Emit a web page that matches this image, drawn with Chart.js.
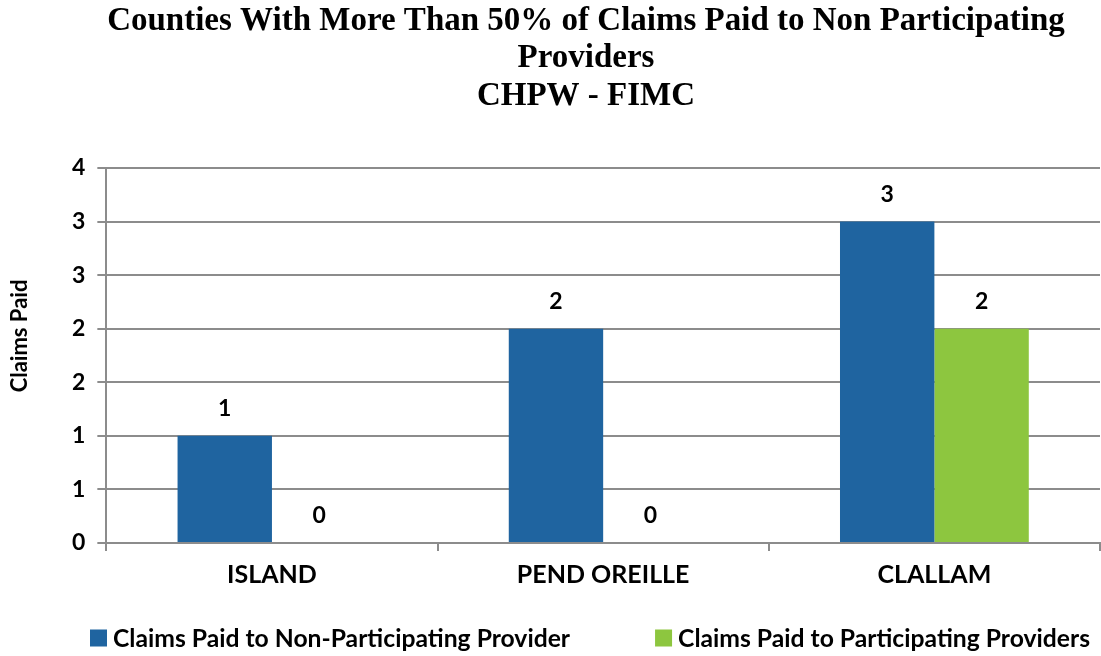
<!DOCTYPE html>
<html>
<head>
<meta charset="utf-8">
<script src="https://cdn.jsdelivr.net/npm/chart.js@4.4.0/dist/chart.umd.min.js"></script>
<style>
  html, body { margin: 0; padding: 0; background: #fff; }
  #wrap { width: 1101px; height: 656px; position: relative; }
</style>
</head>
<body>
<div id="wrap"><canvas id="claimsChart"></canvas></div>
<script>
const counties = ["ISLAND", "PEND OREILLE", "CLALLAM"];
const nonParticipating = [1, 2, 3];
const participating = [0, 0, 2];
const seriesNames = ["Claims Paid to Non-Participating Provider", "Claims Paid to Participating Providers"];
const titleLines = ["Counties With More Than 50% of Claims Paid to Non Participating", "Providers", "CHPW - FIMC"];
const yAxisTitle = "Claims Paid";

const blue = "#1f64a0";
const green = "#8dc63f";
const gridGray = "#8c8c8c";
const labelFont = "Lato, 'Open Sans', sans-serif";

// title block and y-axis title, placed like the original Excel chart
const titleBlock = {
  id: "titleBlock",
  afterDraw(chart) {
    const ctx = chart.ctx;
    ctx.save();
    ctx.font = "bold 33px 'Liberation Serif', 'DejaVu Serif', serif";
    ctx.fillStyle = "#000";
    ctx.textAlign = "center";
    ctx.textBaseline = "middle";
    titleLines.forEach((line, i) => ctx.fillText(line, 586, 21 + i * 37.5));

    ctx.font = "bold 22px " + labelFont;
    ctx.translate(20, 336);
    ctx.rotate(-Math.PI / 2);
    ctx.fillText(yAxisTitle, 0, 0);
    ctx.restore();
  },
};

// value labels above each bar
const barLabels = {
  id: "barLabels",
  afterDatasetsDraw(chart) {
    const ctx = chart.ctx;
    ctx.save();
    ctx.font = "bold 23px " + labelFont;
    ctx.fillStyle = "#000";
    ctx.textAlign = "center";
    ctx.textBaseline = "middle";
    chart.data.datasets.forEach((ds, i) => {
      chart.getDatasetMeta(i).data.forEach((bar, j) => {
        ctx.fillText(ds.data[j], bar.x, bar.y - 27);
      });
    });
    ctx.restore();
  },
};

// legend drawn along the bottom, Excel style
const bottomLegend = {
  id: "bottomLegend",
  afterDraw(chart) {
    const ctx = chart.ctx;
    ctx.save();
    ctx.font = "bold 24.7px " + labelFont;
    ctx.textBaseline = "middle";
    const box = 17, gap = 6, spacing = 85;
    const widths = seriesNames.map((n) => box + gap + ctx.measureText(n).width);
    let x = 90;
    const y = 638;
    chart.data.datasets.forEach((ds, i) => {
      ctx.fillStyle = ds.backgroundColor;
      ctx.fillRect(x, y - box / 2, box, box);
      ctx.fillStyle = "#000";
      ctx.fillText(seriesNames[i], x + box + gap, y + 1);
      x += widths[i] + spacing;
    });
    ctx.restore();
  },
};

new Chart(document.getElementById("claimsChart"), {
  type: "bar",
  data: {
    labels: counties,
    datasets: [
      { label: seriesNames[0], data: nonParticipating, backgroundColor: blue },
      { label: seriesNames[1], data: participating, backgroundColor: green },
    ],
  },
  options: {
    responsive: true,
    maintainAspectRatio: false,
    animation: false,
    layout: { padding: { left: 60, right: 1, top: 168, bottom: 57 } },
    datasets: { bar: { barPercentage: 1, categoryPercentage: 0.57 } },
    plugins: {
      legend: { display: false },
      tooltip: { enabled: false },
      title: { display: false },
    },
    scales: {
      x: {
        grid: { display: true, drawOnChartArea: false, drawTicks: true, tickLength: 8, offset: true, color: gridGray, lineWidth: 2 },
        border: { display: true, color: gridGray, width: 2 },
        ticks: { color: "#000", font: { family: labelFont, size: 25, weight: "bold" }, padding: 9 },
      },
      y: {
        min: 0,
        max: 3.5,
        grid: { color: gridGray, lineWidth: 2, tickLength: 9 },
        border: { display: true, color: gridGray, width: 2 },
        ticks: {
          stepSize: 0.5,
          color: "#000",
          padding: 12,
          font: { family: labelFont, size: 23, weight: "bold" },
          callback: (v) => Math.round(v),
        },
      },
    },
  },
  plugins: [titleBlock, barLabels, bottomLegend],
});
</script>
</body>
</html>
